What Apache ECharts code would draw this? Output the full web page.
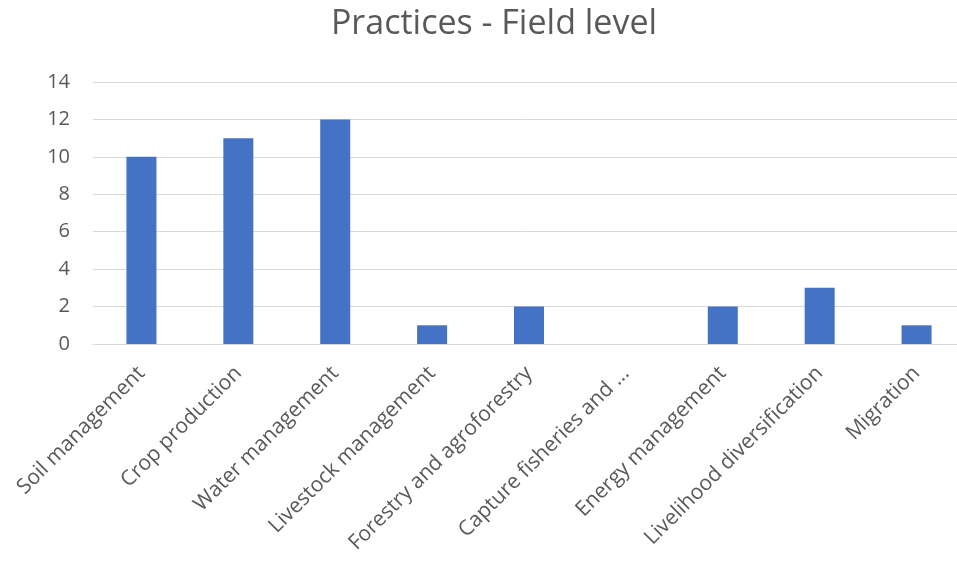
<!DOCTYPE html>
<html>
<head>
<meta charset="utf-8">
<script src="https://cdn.jsdelivr.net/npm/echarts@6/dist/echarts.min.js"></script>
<style>html,body{margin:0;padding:0;background:#fff}#c{width:957px;height:565px}</style>
</head>
<body>
<div id="c"></div>
<script>
const titleText = "Practices - Field level";
const categories = ["Soil management","Crop production","Water management","Livestock management","Forestry and agroforestry","Capture fisheries and ...","Energy management","Livelihood diversification","Migration"];
const values = [10, 11, 12, 1, 2, 0, 2, 3, 1];
const yTicks = {min: 0, max: 14, interval: 2};

const chart = echarts.init(document.getElementById('c'), null, {renderer: 'canvas'});
chart.setOption({
  animation: false,
  backgroundColor: '#fff',
  title: {
    text: titleText,
    left: 489, textAlign: 'center', top: 2,
    textStyle: {fontFamily: 'Open Sans', fontSize: 34, fontWeight: 'normal', color: '#595959'}
  },
  grid: {left: 93, width: 872, top: 82, bottom: 221, containLabel: false, outerBoundsMode: 'none'},
  xAxis: {
    type: 'category',
    data: categories,
    axisLine: {lineStyle: {color: '#d9d9d9', width: 1}},
    axisTick: {show: false},
    axisLabel: {rotate: 45, interval: 0, margin: 26, color: '#595959', fontFamily: 'Open Sans', fontSize: 21}
  },
  yAxis: {
    type: 'value',
    min: yTicks.min, max: yTicks.max, interval: yTicks.interval,
    axisLine: {show: false},
    axisTick: {show: false},
    splitLine: {lineStyle: {color: '#d9d9d9', width: 1}},
    axisLabel: {margin: 23, color: '#595959', fontFamily: 'Open Sans', fontSize: 20}
  },
  series: [{
    type: 'bar',
    data: values,
    barWidth: 30,
    itemStyle: {color: '#4472C4'}
  }]
});
</script>
</body>
</html>
